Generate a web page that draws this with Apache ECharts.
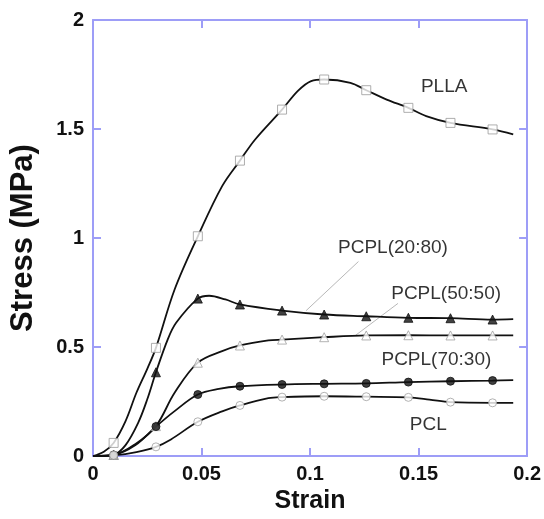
<!DOCTYPE html>
<html>
<head>
<meta charset="utf-8">
<script src="https://cdn.jsdelivr.net/npm/echarts@6/dist/echarts.min.js"></script>
<style>
html,body{margin:0;padding:0;background:#fff;}
#chart{width:544px;height:519px;}
</style>
</head>
<body>
<div id="chart"></div>
<script>
// Axis ticks
const xTicks = [0, 0.05, 0.1, 0.15, 0.2];
const yTicks = [0, 0.5, 1, 1.5, 2];

// Marker positions (strain) shared by all series
const markerX = [0.0095, 0.029, 0.0483, 0.0677, 0.0871, 0.1065, 0.1259, 0.1453, 0.1647, 0.1841];

// Marker stress values
const pllaMarks = [0.06, 0.496, 1.008, 1.355, 1.589, 1.727, 1.678, 1.597, 1.528, 1.498];
const p2080Marks = [0.005, 0.384, 0.722, 0.695, 0.667, 0.649, 0.641, 0.634, 0.632, 0.626];
const p5050Marks = [0.005, 0.137, 0.428, 0.507, 0.534, 0.545, 0.553, 0.554, 0.553, 0.553];
const p7030Marks = [0.005, 0.135, 0.282, 0.320, 0.328, 0.331, 0.333, 0.339, 0.343, 0.346];
const pclMarks = [0.003, 0.042, 0.157, 0.232, 0.270, 0.274, 0.272, 0.269, 0.247, 0.244];

// Curves [strain, stress]
const pllaCurve = [[0,0],[0.005,0.02],[0.0095,0.06],[0.015,0.16],[0.02,0.29],[0.025,0.40],[0.029,0.496],[0.0376,0.764],[0.0483,1.008],[0.0595,1.238],[0.0677,1.355],[0.0747,1.452],[0.0871,1.589],[0.0944,1.675],[0.1005,1.720],[0.1065,1.727],[0.1186,1.712],[0.1259,1.678],[0.1353,1.635],[0.1453,1.597],[0.1535,1.559],[0.1647,1.528],[0.1841,1.498],[0.1936,1.475]];
const p2080Curve = [[0,0],[0.005,0.0],[0.0095,0.005],[0.015,0.05],[0.0208,0.152],[0.025,0.26],[0.029,0.384],[0.0344,0.534],[0.0383,0.611],[0.0483,0.722],[0.0535,0.735],[0.061,0.718],[0.0677,0.695],[0.0871,0.667],[0.1065,0.649],[0.1259,0.641],[0.1453,0.634],[0.1647,0.632],[0.1841,0.626],[0.1936,0.628]];
const p5050Curve = [[0,0],[0.0095,0.005],[0.0196,0.055],[0.029,0.137],[0.0376,0.29],[0.0483,0.428],[0.0595,0.481],[0.0677,0.507],[0.0808,0.53],[0.0871,0.534],[0.1065,0.545],[0.1259,0.553],[0.1453,0.554],[0.1647,0.553],[0.1841,0.553],[0.1936,0.553]];
const p7030Curve = [[0,0],[0.0095,0.005],[0.0196,0.05],[0.029,0.135],[0.0376,0.206],[0.0483,0.282],[0.058,0.308],[0.0677,0.32],[0.0871,0.328],[0.1065,0.331],[0.1259,0.333],[0.1453,0.339],[0.1647,0.343],[0.1841,0.346],[0.1936,0.348]];
const pclCurve = [[0,0],[0.0095,0.003],[0.02,0.018],[0.029,0.042],[0.0359,0.076],[0.0483,0.157],[0.0595,0.205],[0.0677,0.232],[0.0808,0.265],[0.0871,0.27],[0.1065,0.274],[0.1259,0.272],[0.1453,0.269],[0.155,0.259],[0.1647,0.247],[0.1841,0.244],[0.1936,0.244]];

// Series labels and their anchor points (data coords)
const labelNames = ['PLLA', 'PCPL(20:80)', 'PCPL(50:50)', 'PCPL(70:30)', 'PCL'];
const labelPos = [[0.1618, 1.695], [0.1382, 0.956], [0.1627, 0.745], [0.1582, 0.443], [0.1545, 0.144]];

// Leader lines (data coords)
const leader2080 = [[0.1223, 0.892], [0.0982, 0.667]];
const leader5050 = [[0.1405, 0.700], [0.1209, 0.553]];

const frameColor = '#9d9df7';
const font = '"Liberation Sans", Arial, sans-serif';

function pts(xs, ys) { return xs.map((x, i) => [x, ys[i]]); }

function lineSeries(data) {
  return {
    type: 'line', data: data, smooth: 0.35, showSymbol: false, symbol: 'none',
    lineStyle: { color: '#111', width: 1.8 }, z: 2, silent: true
  };
}
function markSeries(data, symbol, size, fill, border) {
  return {
    type: 'scatter', data: data, symbol: symbol, symbolSize: size,
    itemStyle: { color: fill, borderColor: border, borderWidth: 1 }, z: 5, silent: true
  };
}

const chart = echarts.init(document.getElementById('chart'), null, { renderer: 'canvas' });

const axisCommon = {
  type: 'value',
  axisLine: { show: true, onZero: false, lineStyle: { color: frameColor, width: 2 } },
  axisTick: { show: true, inside: true, length: 8, lineStyle: { color: frameColor, width: 2 } },
  splitLine: { show: false }
};

const option = {
  animation: false,
  backgroundColor: '#fff',
  grid: { left: 89, right: 15, top: 20, bottom: 63, containLabel: false },
  xAxis: [
    Object.assign({}, axisCommon, {
      position: 'bottom', min: xTicks[0], max: xTicks[xTicks.length - 1], interval: 0.05,
      axisLabel: { color: '#111', fontSize: 20, fontWeight: 'bold', fontFamily: font, margin: 8 },
      name: 'Strain', nameLocation: 'middle', nameGap: 33,
      nameTextStyle: { color: '#111', fontSize: 25, fontWeight: 'bold', fontFamily: font }
    }),
    Object.assign({}, axisCommon, {
      position: 'top', min: xTicks[0], max: xTicks[xTicks.length - 1], interval: 0.05,
      axisLabel: { show: false }
    })
  ],
  yAxis: [
    Object.assign({}, axisCommon, {
      position: 'left', min: yTicks[0], max: yTicks[yTicks.length - 1], interval: 0.5,
      axisLabel: { color: '#111', fontSize: 20, fontWeight: 'bold', fontFamily: font, margin: 9 },
      name: 'Stress (MPa)', nameLocation: 'middle', nameGap: 54,
      nameTextStyle: { color: '#111', fontSize: 31, fontWeight: 'bold', fontFamily: font }
    }),
    Object.assign({}, axisCommon, {
      position: 'right', min: yTicks[0], max: yTicks[yTicks.length - 1], interval: 0.5,
      axisLabel: { show: false }
    })
  ],
  series: [
    lineSeries(pllaCurve),
    lineSeries(p2080Curve),
    lineSeries(p5050Curve),
    lineSeries(p7030Curve),
    lineSeries(pclCurve),
    markSeries(pts(markerX, pllaMarks), 'rect', 9, '#fff', '#9a9a9a'),
    markSeries(pts(markerX, p2080Marks), 'triangle', 9, '#111', '#111'),
    markSeries(pts(markerX, p5050Marks), 'triangle', 9, '#fff', '#a0a0a0'),
    markSeries(pts(markerX, p7030Marks), 'circle', 8, '#111', '#111'),
    markSeries(pts(markerX, pclMarks), 'circle', 8, '#fff', '#a0a0a0'),
    {
      type: 'line', data: leader2080, symbol: 'none', silent: true, z: 1,
      lineStyle: { color: '#b8b8b8', width: 1 }
    },
    {
      type: 'line', data: leader5050, symbol: 'none', silent: true, z: 1,
      lineStyle: { color: '#b8b8b8', width: 1 }
    },
    {
      type: 'scatter', silent: true, z: 6, symbolSize: 0,
      itemStyle: { color: 'rgba(0,0,0,0)' },
      data: labelPos.map((p, i) => ({ value: p, name: labelNames[i] })),
      label: {
        show: true, position: 'inside', formatter: (p) => p.name,
        color: '#000', fontSize: 19, fontFamily: font
      }
    }
  ]
};
chart.setOption(option);
</script>
</body>
</html>
